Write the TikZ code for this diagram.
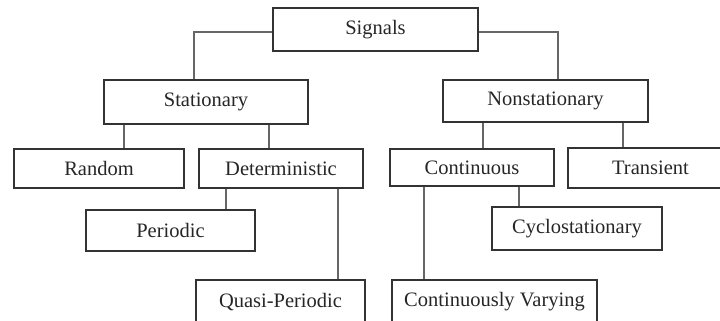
\documentclass[tikz,border=0pt]{standalone}
\usepackage{fontspec}
\setmainfont{Liberation Serif}
\tikzset{
  box/.style={draw=black!80, line width=0.6pt, inner sep=0pt, text=black!85,
    font=\fontsize{10.25}{12}\selectfont},
  link/.style={draw=black!60, line width=0.55pt}
}
\begin{document}
\begin{tikzpicture}[x=0.5pt,y=-0.5pt]
      \useasboundingbox (0,0) rectangle (720,321);
      \node[box, minimum width=102.5pt, minimum height=21.5pt] (sig) at (375.5,29.5) {Signals};
      \node[box, minimum width=102pt, minimum height=22pt] (stat) at (206,102) {Stationary};
      \node[box, minimum width=102.5pt, minimum height=21pt] (nons) at (545.5,101) {Nonstationary};
      \node[box, minimum width=85pt, minimum height=19.5pt] (rand) at (99,168.5) {Random};
      \node[box, minimum width=82pt, minimum height=19.5pt] (det) at (281,168.5) {Deterministic};
      \node[box, minimum width=82pt, minimum height=18.5pt] (cont) at (472,167.5) {Continuous};
      \node[box, minimum width=82.5pt, minimum height=20pt] (tran) at (650.5,168) {Transient};
      \node[box, minimum width=84.5pt, minimum height=20.5pt] (per) at (170.5,230.5) {Periodic};
      \node[box, minimum width=85pt, minimum height=21.5pt] (cyc) at (577,228.5) {Cyclostationary};
      \node[box, minimum width=84.5pt, minimum height=22pt] (quasi) at (280.5,302) {Quasi-Periodic};
      \node[box, minimum width=102.5pt, minimum height=22pt] (cvar) at (494.5,302) {Continuously Varying};
      \begin{scope}[link]
        \draw (sig.west |- 0,32) -| (stat.north -| 194,0);
        \draw (sig.east |- 0,32) -| (nons.north -| 558,0);
        \draw (stat.south -| 124,0) -- (rand.north -| 124,0);
        \draw (stat.south -| 269,0) -- (det.north -| 269,0);
        \draw (nons.south -| 483,0) -- (cont.north -| 483,0);
        \draw (nons.south -| 623,0) -- (tran.north -| 623,0);
        \draw (det.south -| 226,0) -- (per.north -| 226,0);
        \draw (det.south -| 338,0) -- (quasi.north -| 338,0);
        \draw (cont.south -| 519,0) -- (cyc.north -| 519,0);
        \draw (cont.south -| 424,0) -- (cvar.north -| 424,0);
      \end{scope}
    \end{tikzpicture}
\end{document}
